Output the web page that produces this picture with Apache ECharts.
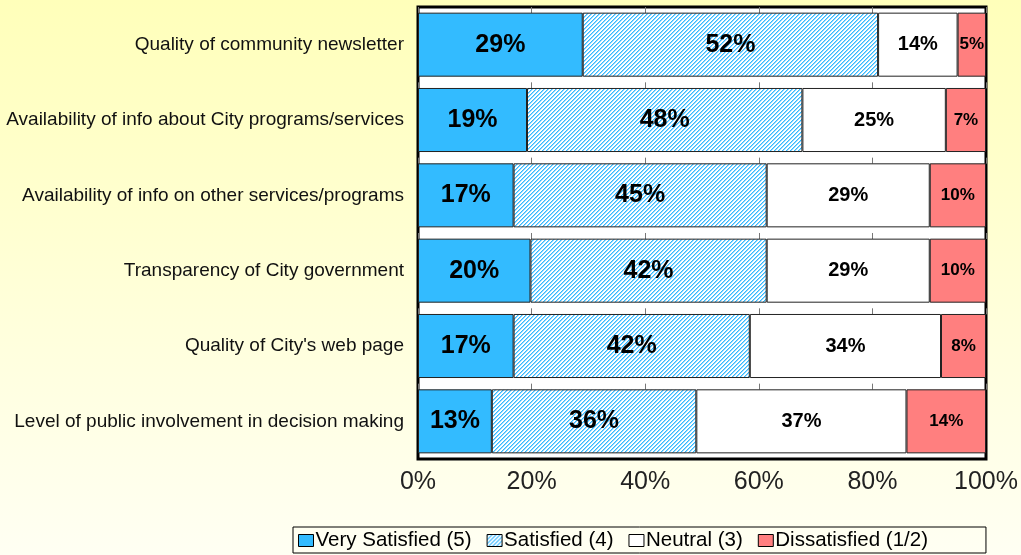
<!DOCTYPE html>
<html>
<head>
    <meta charset="utf-8">
    <title>Satisfaction with communication</title>
    <script src="https://cdn.jsdelivr.net/npm/echarts@6/dist/echarts.min.js"></script>
    <style>
        html, body { margin: 0; padding: 0; }
        #chart1 { width: 1021px; height: 555px; }
    </style>
</head>
<body>
<div id="chart1"></div>
<script type="text/javascript">
    // categories, top to bottom
    var categories = [
        'Quality of community newsletter',
        'Availability of info about City programs/services',
        'Availability of info on other services/programs',
        'Transparency of City government',
        "Quality of City's web page",
        'Level of public involvement in decision making'
    ];
    var seriesNames = ['Very Satisfied (5)', 'Satisfied (4)', 'Neutral (3)', 'Dissatisfied (1/2)'];
    // percentages as printed on the bars
    var verySatisfied = [29, 19, 17, 20, 17, 13];
    var satisfied     = [52, 48, 45, 42, 42, 36];
    var neutral       = [14, 25, 29, 29, 34, 37];
    var dissatisfied  = [5, 7, 10, 10, 8, 14];
    var xTicks = [0, 20, 40, 60, 80, 100];

    var raw = [verySatisfied, satisfied, neutral, dissatisfied];

    // 100% stacked: each row is scaled to its own total
    var totals = categories.map(function (c, i) {
        return raw.reduce(function (s, arr) { return s + arr[i]; }, 0);
    });
    function share(arr) {
        return arr.map(function (v, i) { return v / totals[i] * 100; });
    }

    // hatch fill for "Satisfied"
    var hatch = document.createElement('canvas');
    hatch.width = 4; hatch.height = 4;
    var hc = hatch.getContext('2d');
    var img = hc.createImageData(4, 4);
    for (var y = 0; y < 4; y++) {
        for (var x = 0; x < 4; x++) {
            var k = (x + y) % 4, p = (y * 4 + x) * 4;
            var col = k === 0 ? [51, 187, 255] : (k === 1 ? [150, 215, 255] : [255, 255, 255]);
            img.data[p] = col[0]; img.data[p + 1] = col[1]; img.data[p + 2] = col[2]; img.data[p + 3] = 255;
        }
    }
    hc.putImageData(img, 0, 0);

    var fills = ['#33BBFF', { image: hatch, repeat: 'repeat' }, '#FFFFFF', '#FF7F7F'];
    var labelSizes = [25, 25, 20, 17];
    var font = '"Liberation Sans", Arial, sans-serif';

    var myChart1 = echarts.init(document.getElementById('chart1'));

    var series = raw.map(function (arr, s) {
        return {
            name: seriesNames[s],
            type: 'bar',
            stack: 'all',
            barCategoryGap: '15%',
            data: share(arr),
            itemStyle: { color: fills[s], borderColor: '#222', borderWidth: 1 },
            label: {
                show: true,
                position: 'inside',
                color: '#000',
                fontWeight: 'bold',
                fontFamily: font,
                fontSize: labelSizes[s],
                formatter: function (p) { return raw[s][p.dataIndex] + '%'; }
            },
            emphasis: { disabled: true }
        };
    });

    myChart1.setOption({
        animation: false,
        backgroundColor: {
            type: 'linear', x: 0, y: 0, x2: 0, y2: 1,
            colorStops: [{ offset: 0, color: '#FFFFBA' }, { offset: 1, color: '#FFFFF3' }]
        },
        grid: {
            left: 418, right: 35, top: 7, bottom: 96,
            show: true, backgroundColor: '#FFFFFF', borderColor: '#000', borderWidth: 3
        },
        legend: {
            data: seriesNames,
            left: 293, top: 527,
            padding: [3, 58, 2, 5],
            itemGap: 15,
            itemWidth: 15, itemHeight: 12,
            icon: 'rect',
            itemStyle: { borderColor: '#000', borderWidth: 1 },
            borderColor: '#000', borderWidth: 1,
            textStyle: { fontSize: 20.5, color: '#000', fontFamily: font, padding: [0, 0, 0, -3] }
        },
        xAxis: {
            type: 'value',
            min: xTicks[0], max: xTicks[xTicks.length - 1], interval: 20,
            axisLine: { show: false },
            axisTick: { show: false },
            axisLabel: { formatter: '{value}%', fontSize: 25, color: '#222', fontFamily: font, margin: 11 },
            splitLine: { show: true, lineStyle: { color: '#777', width: 1, type: [6, 69.33] } }
        },
        yAxis: {
            type: 'category',
            inverse: true,
            data: categories,
            axisLine: { show: false },
            axisTick: { show: false },
            axisLabel: { fontSize: 19, color: '#111', fontFamily: font, margin: 14, padding: [4, 0, 0, 0] }
        },
        series: series
    });
</script>
</body>
</html>
